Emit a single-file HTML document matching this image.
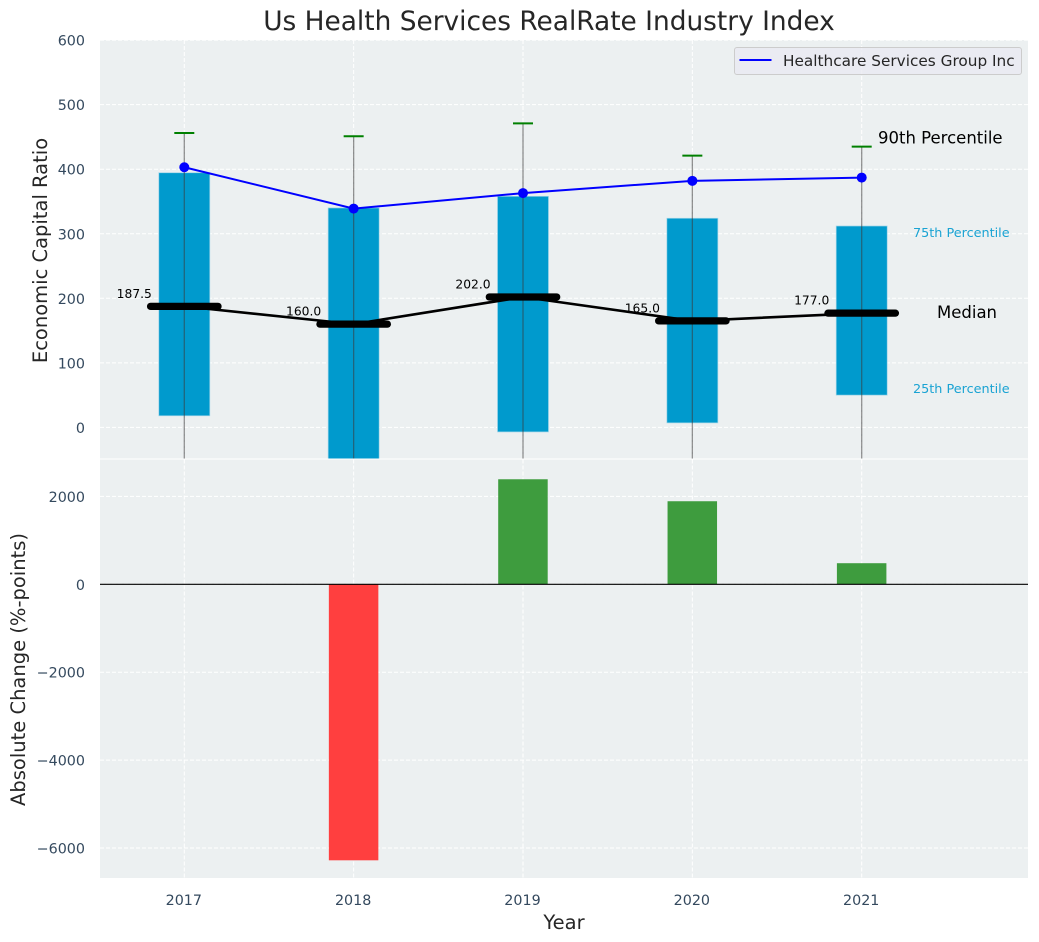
<!DOCTYPE html>
<html>
<head>
<meta charset="utf-8">
<style>
html,body{margin:0;padding:0;background:#fff;width:1039px;height:942px;overflow:hidden}
svg{display:block}
text{font-family:"DejaVu Sans","Liberation Sans",sans-serif}
</style>
</head>
<body>
<svg id="chart" width="1039" height="942" viewBox="0 0 1039 942" xmlns="http://www.w3.org/2000/svg">
<defs>
<clipPath id="clip-top"><rect x="100" y="40" width="928" height="418.5"/></clipPath>
<clipPath id="clip-bottom"><rect x="100" y="459.5" width="928" height="418.5"/></clipPath>
</defs>
<rect x="100" y="40" width="928" height="418.5" fill="#ecf0f1"/>
<rect x="100" y="459.5" width="928" height="418.5" fill="#ecf0f1"/>
<g id="grid"></g>
<g id="top-marks" clip-path="url(#clip-top)"></g>
<g id="bottom-marks" clip-path="url(#clip-bottom)"></g>
<g id="labels"></g>
<text x="549" y="30" text-anchor="middle" font-size="26.4px" fill="#262626">Us Health Services RealRate Industry Index</text>
<text transform="translate(47,250.5) rotate(-90)" text-anchor="middle" font-size="19.5px" fill="#262626">Economic Capital Ratio</text>
<text transform="translate(25,669.5) rotate(-90)" text-anchor="middle" font-size="19.5px" fill="#262626">Absolute Change (%-points)</text>
<text x="564" y="929" text-anchor="middle" font-size="19.5px" fill="#262626">Year</text>
<g>
<rect x="734.5" y="47.5" width="287" height="27" rx="2.5" fill="#eaeaf2" fill-opacity="0.8" stroke="#cccccc"/>
<line x1="739.5" y1="60" x2="771.5" y2="60" stroke="#0000ff" stroke-width="2"/>
<text x="783" y="66" font-size="15.3px" fill="#262626">Healthcare Services Group Inc</text>
</g>
</svg>
<script>
const years = [2017, 2018, 2019, 2020, 2021];
const p10 = [-120, -120, -120, -120, -120];
const p25 = [18, -200, -7, 7, 50];
const p50 = [187.5, 160, 202, 165, 177];
const p75 = [394.5, 340, 358, 324, 312];
const p90 = [456, 451, 471, 421, 435];
const company = [403, 339, 363, 382, 387];
const change = [0, -6280, 2390, 1890, 480];
const medianLabels = ['187.5', '160.0', '202.0', '165.0', '177.0'];
const topTicks = [0, 100, 200, 300, 400, 500, 600];
const bottomTicks = [-6000, -4000, -2000, 0, 2000];

const NS = 'http://www.w3.org/2000/svg';
const x = v => 184.3 + (v - 2017) * 169.35;
const yTop = v => 427.4 - v * 0.6455;
const yBottom = v => 584.3 - v * 0.04395;
const barW = 51;

function mk(parent, tag, attrs, txt) {
  const el = document.createElementNS(NS, tag);
  for (const k in attrs) el.setAttribute(k, attrs[k]);
  if (txt !== undefined) el.textContent = txt;
  document.getElementById(parent).appendChild(el);
  return el;
}
let el;

// grid and tick labels
years.forEach(yr => {
  [[40, 458.5], [459.5, 878]].forEach(r => {
    el = mk('grid', 'line', {x1: x(yr), x2: x(yr), y1: r[0], y2: r[1], stroke: '#fff', 'stroke-width': 1, 'stroke-dasharray': '4 2'});
    
    
  });
  el = mk('labels', 'text', {x: x(yr) - 0.5, y: 905, 'text-anchor': 'middle', 'font-size': '14.3px', fill: '#34495e'}, String(yr));
  
  
});
topTicks.forEach(t => {
  el = mk('grid', 'line', {x1: 100, x2: 1028, y1: yTop(t), y2: yTop(t), stroke: '#fff', 'stroke-width': 1, 'stroke-dasharray': '4 2'});
  
  
  el = mk('labels', 'text', {x: 85, y: yTop(t) + 5.5, 'text-anchor': 'end', 'font-size': '14.3px', fill: '#34495e'}, String(t));
  
  
});
bottomTicks.forEach(t => {
  el = mk('grid', 'line', {x1: 100, x2: 1028, y1: yBottom(t), y2: yBottom(t), stroke: '#fff', 'stroke-width': 1, 'stroke-dasharray': '4 2'});
  
  
  el = mk('labels', 'text', {x: 85, y: yBottom(t) + 5.5, 'text-anchor': 'end', 'font-size': '14.3px', fill: '#34495e'}, String(t).replace('-', '\u2212'));
  
  
});

// percentile boxes
years.forEach((yr, i) => {
  el = mk('top-marks', 'rect', {x: x(yr) - barW / 2, y: yTop(p75[i]), width: barW, height: yTop(p25[i]) - yTop(p75[i]), fill: '#009acd', stroke: '#9ed4e8', 'stroke-width': 0.7});
  
  
});
// whiskers
years.forEach((yr, i) => {
  el = mk('top-marks', 'line', {x1: x(yr), x2: x(yr), y1: yTop(p90[i]), y2: yTop(p10[i]), stroke: '#3a3a3a', 'stroke-opacity': 0.55, 'stroke-width': 1.3});
  
  
  el = mk('top-marks', 'line', {x1: x(yr) - 10, x2: x(yr) + 10, y1: yTop(p90[i]), y2: yTop(p90[i]), stroke: '#008000', 'stroke-width': 2});
  
  
});
// median value labels sit underneath the median line
years.forEach((yr, i) => {
  el = mk('top-marks', 'text', {x: x(yr) - 32.4, y: yTop(p50[i]) - 8.5, 'text-anchor': 'end', 'font-size': '12.3px', fill: '#000'}, medianLabels[i]);
  
  
});
// median line
el = mk('top-marks', 'polyline', {points: years.map((yr, i) => x(yr) + ',' + yTop(p50[i])).join(' '), fill: 'none', stroke: '#000', 'stroke-width': 2.6});


years.forEach((yr, i) => {
  el = mk('top-marks', 'line', {x1: x(yr) - 33.7, x2: x(yr) + 33.7, y1: yTop(p50[i]), y2: yTop(p50[i]), stroke: '#000', 'stroke-width': 7.3, 'stroke-linecap': 'round'});
  
  
});
// company line
el = mk('top-marks', 'polyline', {points: years.map((yr, i) => x(yr) + ',' + yTop(company[i])).join(' '), fill: 'none', stroke: '#0000ff', 'stroke-width': 2});


years.forEach((yr, i) => {
  el = mk('top-marks', 'circle', {cx: x(yr), cy: yTop(company[i]), r: 5, fill: '#0000ff'});
  
  
});
// change bars
years.forEach((yr, i) => {
  if (change[i] === 0) return;
  const top = Math.min(yBottom(0), yBottom(change[i]));
  const h = Math.abs(yBottom(change[i]) - yBottom(0));
  el = mk('bottom-marks', 'rect', {x: x(yr) - 24.8, y: top, width: 49.5, height: h, fill: change[i] > 0 ? '#3e9c3e' : '#ff3f3f'});
  
  
});
el = mk('bottom-marks', 'line', {x1: 100, x2: 1028, y1: yBottom(0), y2: yBottom(0), stroke: '#000', 'stroke-width': 1.2});



// percentile annotations beside the last year
const last = years.length - 1;
const lx = 861;
el = mk('labels', 'text', {x: lx + 17, y: yTop(p90[last]) - 3, 'font-size': '16.5px', fill: '#000'}, '90th Percentile');


el = mk('labels', 'text', {x: lx + 52, y: yTop(p75[last]) + 11, 'font-size': '12.8px', fill: '#1aa3d3'}, '75th Percentile');


el = mk('labels', 'text', {x: lx + 76, y: yTop(p50[last]) + 5, 'font-size': '16.5px', fill: '#000'}, 'Median');


el = mk('labels', 'text', {x: lx + 52, y: yTop(p25[last]) - 2, 'font-size': '12.8px', fill: '#1aa3d3'}, '25th Percentile');


</script>
</body>
</html>
